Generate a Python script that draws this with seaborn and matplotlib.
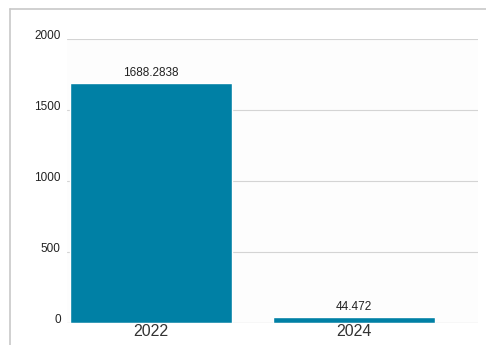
import matplotlib
matplotlib.use("Agg")
import matplotlib.pyplot as plt
import seaborn as sns
import pandas as pd
from matplotlib.lines import Line2D

# values
years = ["2022", "2024"]
values = [1688.2838, 44.472]
value_labels = ["1688.2838", "44.472"]
y_ticks = [0, 500, 1000, 1500, 2000]

sns.set_theme(style="white")
plt.rcParams['font.family'] = ['Liberation Sans', 'DejaVu Sans']

df = pd.DataFrame({"year": years, "value": values})

fig = plt.figure(figsize=(4.86, 3.45), dpi=100)
ax = fig.add_axes([67/486, 1 - 323/345, (478 - 67)/486, (323 - 39)/345])
ax.set_facecolor("#fdfdfd")

sns.barplot(data=df, x="year", y="value", color="#0080a5", saturation=1,
            width=0.8, ax=ax, zorder=3)

ax.set_ylim(0, 2000)
ax.set_xlim(-0.414, 1.611)
ax.set_yticks(y_ticks)
ax.set_yticklabels([str(t) for t in y_ticks], fontsize=8.5, color="#222222")
for lab in ax.get_yticklabels():
    lab.set_verticalalignment("baseline")
ax.tick_params(axis="y", length=0, pad=4.5)
ax.tick_params(axis="x", length=0, pad=1, labelsize=11.5, labelcolor="#333333")
ax.set_xlabel("")
ax.set_ylabel("")
ax.yaxis.grid(True, color="#d4d4d4", linewidth=0.8, zorder=0)
ax.xaxis.grid(False)
ax.axhline(0, color="#d4d4d4", linewidth=0.8, zorder=4)
for s in ax.spines.values():
    s.set_visible(False)

for i, (v, t) in enumerate(zip(values, value_labels)):
    ax.annotate(t, (i, v), xytext=(0, 3), textcoords="offset points",
                ha="center", va="bottom", fontsize=8.5, color="#222222")

# outer panel border (top and left)
fig.add_artist(Line2D([10/486, 1], [1 - 9/345, 1 - 9/345], color="#c8c8c8", lw=1.2,
                      transform=fig.transFigure))
fig.add_artist(Line2D([10/486, 10/486], [0, 1 - 9/345], color="#c8c8c8", lw=1.2,
                      transform=fig.transFigure))

fig.savefig("out.png", dpi=100)
